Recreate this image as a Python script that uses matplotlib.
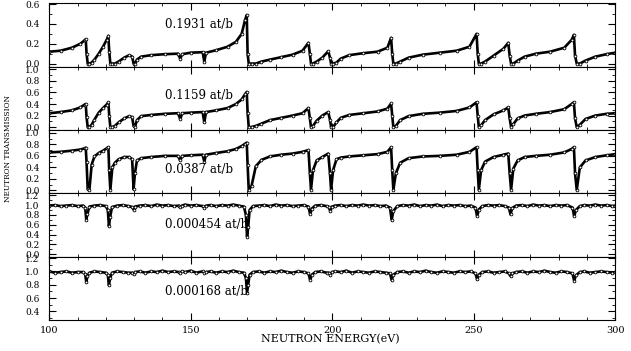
import matplotlib
matplotlib.use("Agg")
import matplotlib.pyplot as plt
from matplotlib.ticker import MultipleLocator

# Energy grid (eV) shared by the three thick-sample panels
energy_thick = [
    100, 104, 108, 111, 112.5, 112.9,
    113.2, 113.6, 114.2, 115, 116, 117.5, 119, 120.3, 120.9,
    121.2, 121.6, 122.3, 123.2, 124.5, 126.5, 128.3, 129.3,
    129.8, 130.3, 131, 132.5, 136, 141, 145.5, 146.3, 147,
    150, 154.2, 154.8, 155.4, 159, 163, 166, 168,
    169.2, 169.8, 170.1, 170.5, 171.5, 173, 175, 178, 182, 186, 189.5, 191.6,
    192.1, 192.5, 193.2, 194.5, 196.5, 198.6,
    199.2, 199.6, 200.3, 201.5, 203, 206, 211, 216, 219.5, 220.8,
    221.2, 221.6, 222.5, 224, 227, 232, 238, 244, 248.5, 251.0,
    251.4, 251.8, 252.6, 254, 257, 260.5, 262.2,
    262.7, 263.2, 264, 265.5, 268, 272, 277, 282, 284.6, 285.4,
    285.8, 286.4, 287.5, 289.5, 293, 297, 300,
]

trans_01931 = [
    0.12, 0.13, 0.16, 0.20, 0.235, 0.245,
    0.10, 0.00, 0.00, 0.01, 0.04, 0.10, 0.17, 0.24, 0.28,
    0.12, 0.00, 0.00, 0.00, 0.02, 0.06, 0.085, 0.07,
    0.00, 0.00, 0.04, 0.07, 0.085, 0.095, 0.10, 0.05, 0.095,
    0.11, 0.115, 0.02, 0.11, 0.135, 0.17, 0.22, 0.30,
    0.44, 0.49, 0.10, 0.00, 0.00, 0.00, 0.02, 0.04, 0.065, 0.09, 0.13, 0.21,
    0.10, 0.00, 0.00, 0.02, 0.06, 0.125,
    0.06, 0.00, 0.00, 0.01, 0.05, 0.085, 0.105, 0.12, 0.16, 0.26,
    0.10, 0.00, 0.00, 0.02, 0.06, 0.09, 0.11, 0.13, 0.17, 0.30,
    0.10, 0.00, 0.00, 0.02, 0.08, 0.15, 0.21,
    0.08, 0.00, 0.00, 0.03, 0.07, 0.10, 0.12, 0.16, 0.24, 0.29,
    0.08, 0.00, 0.00, 0.03, 0.07, 0.095, 0.11,
]

trans_01159 = [
    0.24, 0.26, 0.29, 0.34, 0.39, 0.40,
    0.17, 0.00, 0.00, 0.04, 0.13, 0.25, 0.33, 0.39, 0.43,
    0.20, 0.00, 0.00, 0.02, 0.08, 0.15, 0.19, 0.17,
    0.02, 0.00, 0.12, 0.19, 0.21, 0.23, 0.24, 0.14, 0.24,
    0.25, 0.26, 0.08, 0.26, 0.29, 0.33, 0.40, 0.48,
    0.57, 0.61, 0.25, 0.00, 0.00, 0.02, 0.06, 0.12, 0.16, 0.20, 0.24, 0.33,
    0.15, 0.00, 0.02, 0.11, 0.20, 0.26,
    0.13, 0.00, 0.00, 0.08, 0.16, 0.21, 0.24, 0.27, 0.32, 0.41,
    0.20, 0.00, 0.02, 0.12, 0.19, 0.23, 0.25, 0.28, 0.34, 0.43,
    0.20, 0.00, 0.03, 0.12, 0.22, 0.29, 0.34,
    0.15, 0.00, 0.05, 0.15, 0.20, 0.23, 0.26, 0.31, 0.40, 0.43,
    0.15, 0.00, 0.04, 0.14, 0.20, 0.23, 0.24,
]

trans_00387 = [
    0.66, 0.67, 0.69, 0.71, 0.73, 0.74,
    0.49, 0.02, 0.01, 0.45, 0.59, 0.65, 0.69, 0.73, 0.75,
    0.35, 0.01, 0.40, 0.48, 0.54, 0.58, 0.58, 0.54,
    0.02, 0.30, 0.52, 0.56, 0.58, 0.60, 0.60, 0.52, 0.60,
    0.61, 0.62, 0.50, 0.62, 0.65, 0.68, 0.72, 0.77,
    0.81, 0.83, 0.45, 0.01, 0.08, 0.42, 0.53, 0.59, 0.62, 0.64, 0.67, 0.70,
    0.30, 0.01, 0.35, 0.52, 0.58, 0.64,
    0.30, 0.01, 0.35, 0.54, 0.57, 0.59, 0.61, 0.63, 0.67, 0.75,
    0.35, 0.01, 0.30, 0.48, 0.56, 0.59, 0.60, 0.62, 0.67, 0.75,
    0.35, 0.01, 0.35, 0.50, 0.58, 0.62, 0.64,
    0.30, 0.01, 0.38, 0.52, 0.58, 0.60, 0.62, 0.66, 0.72, 0.75,
    0.30, 0.01, 0.40, 0.52, 0.58, 0.61, 0.63,
]

# Energy grid (eV) for the two thin-sample panels
energy_thin = [
    100, 102, 104, 106, 108, 110, 112, 112.7, 113.1, 113.5,
    114.2, 116, 118, 120, 120.7, 121.1, 121.5, 122.2, 124, 126,
    128, 129.4, 129.8, 130.3, 132, 134, 136, 138, 140, 142,
    144, 145.8, 146.3, 146.9, 148, 150, 152, 154.2, 154.8, 155.5,
    157, 159, 161, 163, 165, 167, 168.8, 169.5, 169.9, 170.3,
    170.8, 172, 174, 176, 178, 180, 182, 184, 186, 188,
    190, 191.6, 192.2, 192.8, 194, 196, 198, 198.8, 199.3, 199.9,
    201, 203, 205, 207, 209, 211, 213, 215, 217, 219,
    220.4, 221, 221.6, 223, 225, 227, 229, 231, 233, 235,
    237, 239, 241, 243, 245, 247, 249, 250.6, 251.2, 251.8,
    253, 255, 257, 259, 261, 262.4, 263, 263.6, 265, 267,
    269, 271, 273, 275, 277, 279, 281, 283, 284.9, 285.5,
    286.1, 287.5, 289, 291, 293, 295, 297, 299, 300,
]

trans_000454 = [
    0.99, 1.00, 0.98, 0.99, 1.00, 0.98, 0.99, 0.95, 0.70, 0.82,
    0.97, 0.99, 1.00, 0.98, 0.90, 0.57, 0.75, 0.96, 0.99, 1.00,
    0.98, 0.96, 0.91, 0.97, 0.99, 1.00, 0.98, 1.01, 0.99, 1.00,
    0.98, 0.99, 0.96, 0.99, 1.01, 0.99, 1.00, 0.98, 0.95, 0.99,
    1.00, 0.98, 1.00, 0.99, 1.01, 0.99, 0.97, 0.80, 0.36, 0.55,
    0.90, 0.98, 0.99, 1.00, 0.98, 1.01, 0.99, 1.00, 0.98, 0.99,
    1.00, 0.97, 0.81, 0.93, 0.99, 1.00, 0.98, 0.96, 0.88, 0.97,
    0.99, 1.00, 0.98, 1.00, 0.99, 1.01, 0.99, 1.00, 0.98, 0.99,
    0.95, 0.70, 0.88, 0.98, 1.00, 0.99, 1.01, 0.98, 1.00, 0.99,
    1.01, 0.98, 1.00, 0.99, 1.00, 0.98, 0.99, 0.95, 0.77, 0.91,
    0.98, 1.00, 0.99, 1.00, 0.98, 0.95, 0.81, 0.94, 0.99, 1.00,
    0.98, 1.01, 0.99, 1.00, 0.98, 1.00, 0.99, 1.00, 0.95, 0.77,
    0.90, 0.98, 1.00, 0.99, 1.01, 0.99, 1.00, 0.98, 0.99,
]

trans_000168 = [
    1.00, 0.98, 0.99, 1.00, 0.98, 0.99, 0.99, 0.96, 0.84, 0.93,
    0.98, 1.00, 0.99, 0.98, 0.95, 0.79, 0.90, 0.98, 1.00, 0.99,
    0.98, 0.98, 0.96, 0.99, 1.00, 0.98, 1.00, 0.99, 1.01, 0.99,
    1.00, 0.99, 0.98, 1.00, 0.99, 1.01, 0.98, 1.00, 0.98, 0.99,
    1.00, 0.98, 1.00, 0.99, 1.01, 0.99, 0.98, 0.90, 0.68, 0.80,
    0.95, 0.99, 1.00, 0.98, 1.00, 0.99, 1.01, 0.99, 0.98, 1.00,
    0.99, 0.97, 0.87, 0.95, 0.99, 1.00, 0.98, 0.98, 0.95, 0.99,
    1.00, 0.99, 1.01, 0.98, 1.00, 0.99, 0.98, 1.00, 0.99, 0.98,
    0.97, 0.87, 0.95, 0.99, 1.00, 0.98, 1.00, 0.99, 1.01, 0.99,
    0.98, 1.00, 0.99, 0.98, 1.00, 0.99, 1.00, 0.97, 0.88, 0.95,
    0.99, 1.00, 0.98, 0.99, 1.00, 0.97, 0.93, 0.97, 0.99, 1.00,
    0.98, 1.00, 0.99, 1.01, 0.99, 0.98, 1.00, 0.99, 0.97, 0.86,
    0.94, 0.99, 1.00, 0.98, 0.99, 1.00, 0.99, 0.98, 0.99,
]

sample_labels = ["0.1931 at/b", "0.1159 at/b", "0.0387 at/b",
                 "0.000454 at/b", "0.000168 at/b"]


def plot_panels():
    """
    Five stacked transmission panels sharing the energy axis.
    """
    plt.rcParams["font.family"] = "DejaVu Serif"
    fig, axes = plt.subplots(5, 1, sharex=True, figsize=(6.31, 3.51), dpi=100)
    fig.subplots_adjust(left=0.078, right=0.975, top=0.991, bottom=0.088, hspace=0)

    series = [
        (energy_thick, trans_01931),
        (energy_thick, trans_01159),
        (energy_thick, trans_00387),
        (energy_thin, trans_000454),
        (energy_thin, trans_000168),
    ]
    ylims = [(-0.03, 0.61), (-0.05, 1.05), (-0.05, 1.05), (-0.05, 1.24), (0.27, 1.22)]
    yticks = [[0.0, 0.2, 0.4, 0.6],
              [0.0, 0.2, 0.4, 0.6, 0.8, 1.0],
              [0.0, 0.2, 0.4, 0.6, 0.8, 1.0],
              [0.0, 0.2, 0.4, 0.6, 0.8, 1.0, 1.2],
              [0.4, 0.6, 0.8, 1.0, 1.2]]
    label_y = [0.39, 0.54, 0.37, 0.61, 0.70]

    for i, ax in enumerate(axes):
        x, y = series[i]
        ax.plot(x, y, color="black", lw=1.9, marker="o", ms=2.0,
                mfc="white", mec="black", mew=0.6)
        ax.set_ylim(*ylims[i])
        ax.set_yticks(yticks[i])
        ax.set_yticklabels([f"{t:.1f}" for t in yticks[i]])
        ax.yaxis.set_minor_locator(MultipleLocator(0.1))
        ax.xaxis.set_major_locator(MultipleLocator(50))
        ax.xaxis.set_minor_locator(MultipleLocator(10))
        ax.tick_params(which="both", direction="in", top=True, right=True)
        ax.tick_params(which="major", length=5, width=0.8)
        ax.tick_params(which="minor", length=2.5, width=0.6)
        ax.tick_params(axis="y", which="major", pad=7, labelsize=6.5)
        ax.tick_params(axis="x", which="major", pad=4, labelsize=7)
        for sp in ax.spines.values():
            sp.set_linewidth(0.8)
        ax.text(141, label_y[i], sample_labels[i], fontsize=8.5,
                ha="left", va="center")

    axes[-1].set_xlim(100, 300)
    fig.text(0.523, 0.034, "NEUTRON ENERGY(eV)", ha="center", va="center", fontsize=8)
    fig.text(0.0127, 0.578, "NEUTRON TRANSMISSION", ha="center", va="center",
             rotation=90, fontsize=5.3)

    fig.savefig("out.png", dpi=100)


def main():
    plot_panels()


if __name__ == "__main__":
    main()
